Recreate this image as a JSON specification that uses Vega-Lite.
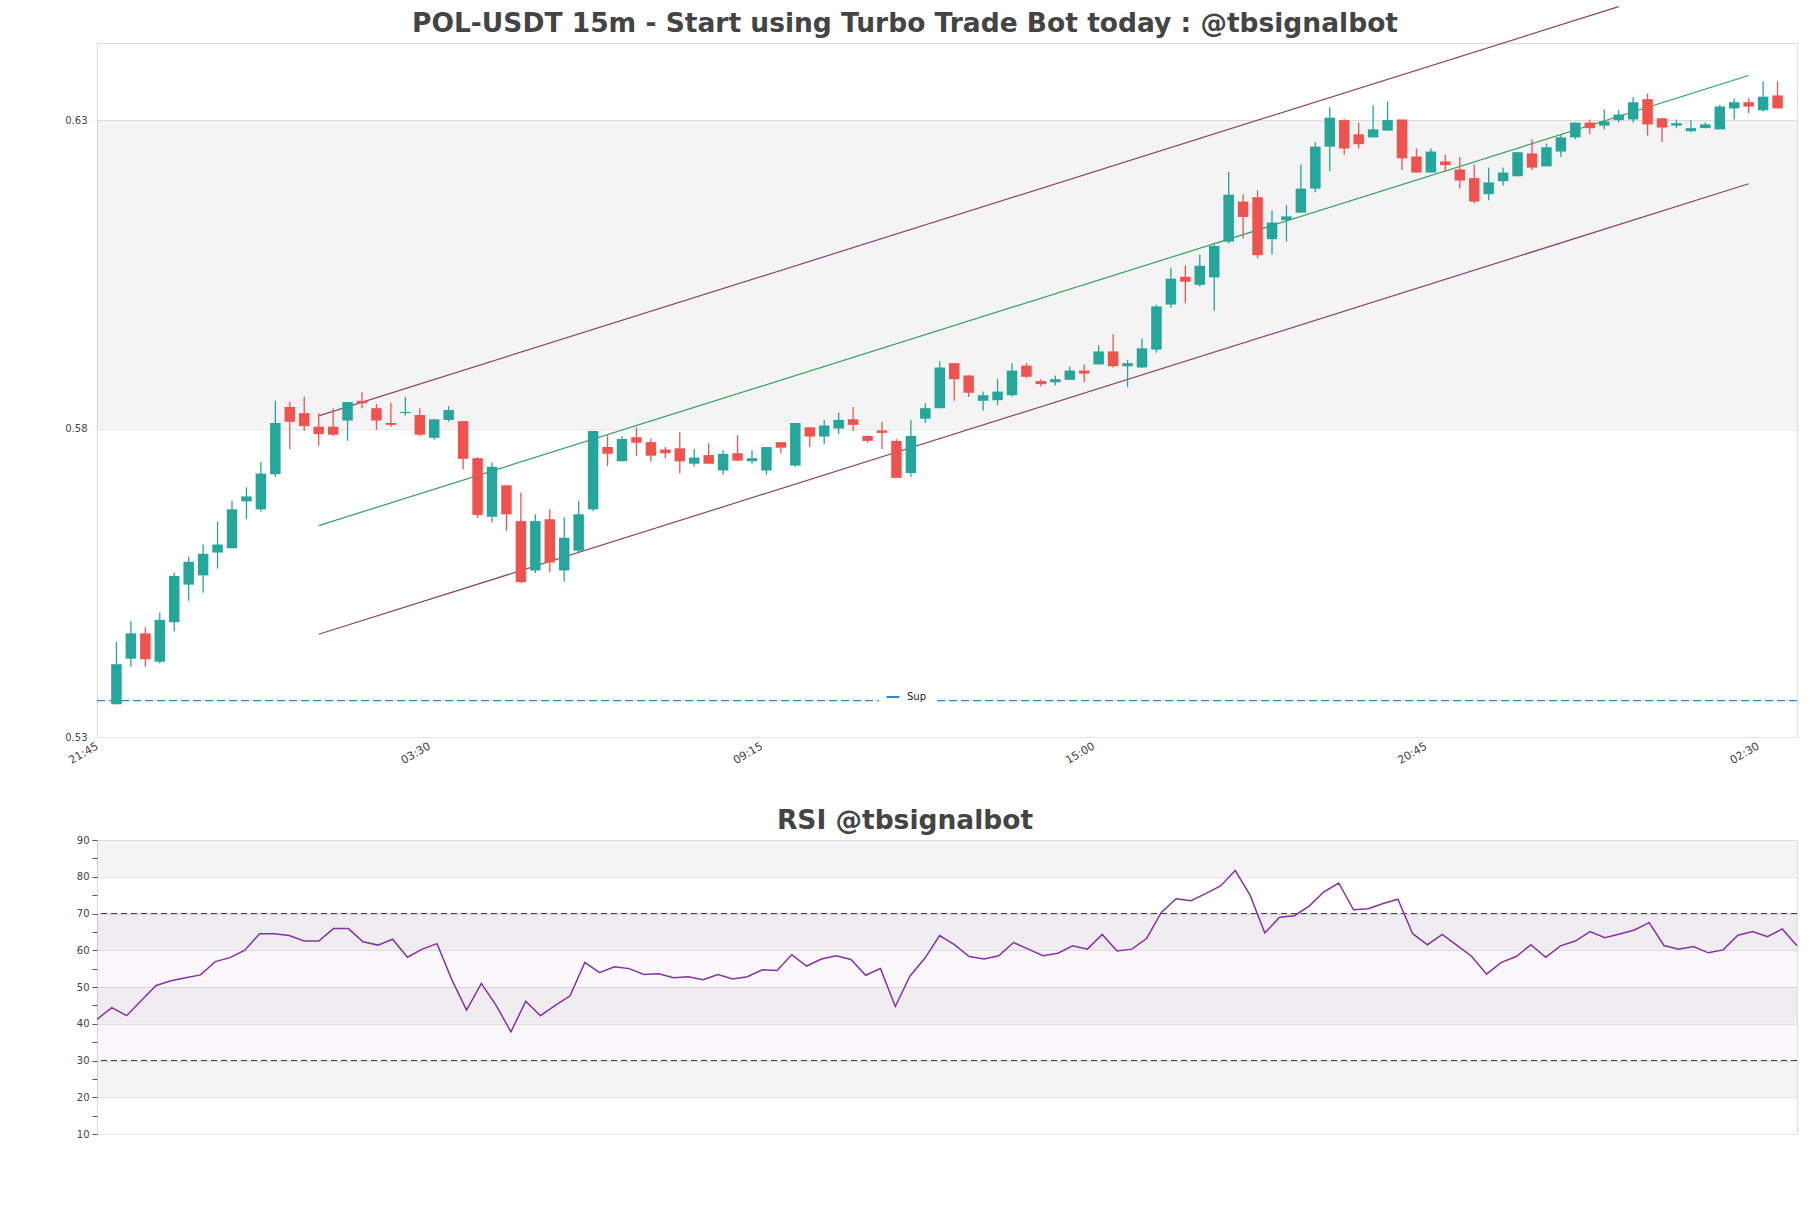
{
  "$schema": "https://vega.github.io/schema/vega-lite/v6.json",
  "autosize": {"type": "none"},
  "padding": {"left": 97, "top": 43, "right": 1714, "bottom": 1165},
  "background": "white",
  "bounds": "flush",
  "spacing": 103,
  "config": {
    "font": "DejaVu Sans",
    "view": {"stroke": "#dcdcdc", "strokeWidth": 1},
    "axis": {"labelFont": "DejaVu Sans", "labelFontSize": 10, "labelColor": "#444444", "gridColor": "#e4e4e4", "domain": false, "ticks": false, "title": null, "labelOverlap": false},
    "title": {"font": "DejaVu Sans", "fontSize": 26.5, "fontWeight": "bold", "color": "#444444", "anchor": "middle", "frame": "group", "dx": -42, "baseline": "alphabetic", "offset": 9.5}
  },
  "datasets": {
    "candles": [
      {"t":"2024-10-01T22:00Z","o":0.5353,"h":0.5454,"l":0.5353,"c":0.5418,"r":41.2},
      {"t":"2024-10-01T22:15Z","o":0.5427,"h":0.5488,"l":0.5414,"c":0.5468,"r":44.4},
      {"t":"2024-10-01T22:30Z","o":0.5468,"h":0.5478,"l":0.5414,"c":0.5426,"r":42.2},
      {"t":"2024-10-01T22:45Z","o":0.5422,"h":0.5502,"l":0.5419,"c":0.5490,"r":46.3},
      {"t":"2024-10-01T23:00Z","o":0.5486,"h":0.5566,"l":0.5471,"c":0.5561,"r":50.4},
      {"t":"2024-10-01T23:15Z","o":0.5547,"h":0.5592,"l":0.5521,"c":0.5584,"r":51.7},
      {"t":"2024-10-01T23:30Z","o":0.5562,"h":0.5612,"l":0.5534,"c":0.5597,"r":52.5},
      {"t":"2024-10-01T23:45Z","o":0.5599,"h":0.5649,"l":0.5573,"c":0.5612,"r":53.3},
      {"t":"2024-10-02T00:00Z","o":0.5606,"h":0.5683,"l":0.5606,"c":0.5669,"r":56.9},
      {"t":"2024-10-02T00:15Z","o":0.5682,"h":0.5705,"l":0.5653,"c":0.5690,"r":58.0},
      {"t":"2024-10-02T00:30Z","o":0.5669,"h":0.5746,"l":0.5665,"c":0.5727,"r":60.0},
      {"t":"2024-10-02T00:45Z","o":0.5726,"h":0.5845,"l":0.5722,"c":0.5809,"r":64.5},
      {"t":"2024-10-02T01:00Z","o":0.5835,"h":0.5843,"l":0.5767,"c":0.5811,"r":64.5},
      {"t":"2024-10-02T01:15Z","o":0.5825,"h":0.5852,"l":0.5796,"c":0.5804,"r":64.0},
      {"t":"2024-10-02T01:30Z","o":0.5803,"h":0.5825,"l":0.5772,"c":0.5791,"r":62.5},
      {"t":"2024-10-02T01:45Z","o":0.5803,"h":0.5833,"l":0.5788,"c":0.5790,"r":62.5},
      {"t":"2024-10-02T02:00Z","o":0.5813,"h":0.5843,"l":0.5780,"c":0.5843,"r":65.9},
      {"t":"2024-10-02T02:15Z","o":0.5845,"h":0.5859,"l":0.5833,"c":0.5841,"r":65.9},
      {"t":"2024-10-02T02:30Z","o":0.5833,"h":0.5840,"l":0.5798,"c":0.5813,"r":62.3},
      {"t":"2024-10-02T02:45Z","o":0.5809,"h":0.5842,"l":0.5803,"c":0.5806,"r":61.4},
      {"t":"2024-10-02T03:00Z","o":0.5825,"h":0.5851,"l":0.5821,"c":0.5827,"r":63.0},
      {"t":"2024-10-02T03:15Z","o":0.5822,"h":0.5833,"l":0.5788,"c":0.5790,"r":58.1},
      {"t":"2024-10-02T03:30Z","o":0.5785,"h":0.5815,"l":0.5782,"c":0.5815,"r":60.3},
      {"t":"2024-10-02T03:45Z","o":0.5814,"h":0.5836,"l":0.5811,"c":0.5830,"r":61.8},
      {"t":"2024-10-02T04:00Z","o":0.5812,"h":0.5812,"l":0.5734,"c":0.5751,"r":52.0},
      {"t":"2024-10-02T04:15Z","o":0.5752,"h":0.5754,"l":0.5655,"c":0.5660,"r":43.7},
      {"t":"2024-10-02T04:30Z","o":0.5657,"h":0.5745,"l":0.5648,"c":0.5738,"r":51.0},
      {"t":"2024-10-02T04:45Z","o":0.5708,"h":0.5708,"l":0.5634,"c":0.5661,"r":45.0},
      {"t":"2024-10-02T05:00Z","o":0.5650,"h":0.5696,"l":0.5550,"c":0.5551,"r":37.8},
      {"t":"2024-10-02T05:15Z","o":0.5570,"h":0.5661,"l":0.5566,"c":0.5650,"r":46.1},
      {"t":"2024-10-02T05:30Z","o":0.5653,"h":0.5669,"l":0.5567,"c":0.5583,"r":42.2},
      {"t":"2024-10-02T05:45Z","o":0.5570,"h":0.5656,"l":0.5552,"c":0.5623,"r":45.0},
      {"t":"2024-10-02T06:00Z","o":0.5602,"h":0.5683,"l":0.5600,"c":0.5661,"r":47.6},
      {"t":"2024-10-02T06:15Z","o":0.5669,"h":0.5796,"l":0.5666,"c":0.5796,"r":56.7},
      {"t":"2024-10-02T06:30Z","o":0.5770,"h":0.5789,"l":0.5739,"c":0.5759,"r":53.9},
      {"t":"2024-10-02T06:45Z","o":0.5747,"h":0.5788,"l":0.5747,"c":0.5783,"r":55.5},
      {"t":"2024-10-02T07:00Z","o":0.5786,"h":0.5802,"l":0.5756,"c":0.5777,"r":55.0},
      {"t":"2024-10-02T07:15Z","o":0.5778,"h":0.5784,"l":0.5746,"c":0.5756,"r":53.4},
      {"t":"2024-10-02T07:30Z","o":0.5766,"h":0.5770,"l":0.5752,"c":0.5760,"r":53.6},
      {"t":"2024-10-02T07:45Z","o":0.5768,"h":0.5794,"l":0.5727,"c":0.5747,"r":52.5},
      {"t":"2024-10-02T08:00Z","o":0.5743,"h":0.5767,"l":0.5738,"c":0.5753,"r":52.8},
      {"t":"2024-10-02T08:15Z","o":0.5757,"h":0.5776,"l":0.5743,"c":0.5743,"r":52.0},
      {"t":"2024-10-02T08:30Z","o":0.5732,"h":0.5765,"l":0.5725,"c":0.5759,"r":53.4},
      {"t":"2024-10-02T08:45Z","o":0.5760,"h":0.5789,"l":0.5747,"c":0.5748,"r":52.2},
      {"t":"2024-10-02T09:00Z","o":0.5747,"h":0.5765,"l":0.5743,"c":0.5752,"r":52.8},
      {"t":"2024-10-02T09:15Z","o":0.5732,"h":0.5770,"l":0.5725,"c":0.5770,"r":54.7},
      {"t":"2024-10-02T09:30Z","o":0.5778,"h":0.5778,"l":0.5760,"c":0.5769,"r":54.5},
      {"t":"2024-10-02T09:45Z","o":0.5740,"h":0.5809,"l":0.5738,"c":0.5809,"r":58.8},
      {"t":"2024-10-02T10:00Z","o":0.5802,"h":0.5802,"l":0.5770,"c":0.5787,"r":55.7},
      {"t":"2024-10-02T10:15Z","o":0.5787,"h":0.5814,"l":0.5775,"c":0.5805,"r":57.6},
      {"t":"2024-10-02T10:30Z","o":0.5800,"h":0.5826,"l":0.5791,"c":0.5814,"r":58.5},
      {"t":"2024-10-02T10:45Z","o":0.5815,"h":0.5835,"l":0.5796,"c":0.5806,"r":57.5},
      {"t":"2024-10-02T11:00Z","o":0.5788,"h":0.5789,"l":0.5777,"c":0.5780,"r":53.2},
      {"t":"2024-10-02T11:15Z","o":0.5797,"h":0.5811,"l":0.5767,"c":0.5793,"r":55.0},
      {"t":"2024-10-02T11:30Z","o":0.5780,"h":0.5783,"l":0.5720,"c":0.5720,"r":44.7},
      {"t":"2024-10-02T11:45Z","o":0.5728,"h":0.5814,"l":0.5722,"c":0.5788,"r":53.0},
      {"t":"2024-10-02T12:00Z","o":0.5816,"h":0.5841,"l":0.5809,"c":0.5833,"r":57.8},
      {"t":"2024-10-02T12:15Z","o":0.5833,"h":0.5909,"l":0.5833,"c":0.5899,"r":64.0},
      {"t":"2024-10-02T12:30Z","o":0.5906,"h":0.5906,"l":0.5845,"c":0.5880,"r":61.5},
      {"t":"2024-10-02T12:45Z","o":0.5886,"h":0.5886,"l":0.5851,"c":0.5858,"r":58.3},
      {"t":"2024-10-02T13:00Z","o":0.5845,"h":0.5860,"l":0.5829,"c":0.5854,"r":57.6},
      {"t":"2024-10-02T13:15Z","o":0.5846,"h":0.5880,"l":0.5838,"c":0.5860,"r":58.5},
      {"t":"2024-10-02T13:30Z","o":0.5854,"h":0.5906,"l":0.5852,"c":0.5894,"r":62.1},
      {"t":"2024-10-02T13:45Z","o":0.5902,"h":0.5906,"l":0.5882,"c":0.5884,"r":60.3},
      {"t":"2024-10-02T14:00Z","o":0.5877,"h":0.5880,"l":0.5868,"c":0.5872,"r":58.5},
      {"t":"2024-10-02T14:15Z","o":0.5875,"h":0.5886,"l":0.5870,"c":0.5880,"r":59.2},
      {"t":"2024-10-02T14:30Z","o":0.5879,"h":0.5900,"l":0.5879,"c":0.5894,"r":61.2},
      {"t":"2024-10-02T14:45Z","o":0.5894,"h":0.5904,"l":0.5875,"c":0.5889,"r":60.3},
      {"t":"2024-10-02T15:00Z","o":0.5904,"h":0.5935,"l":0.5904,"c":0.5925,"r":64.3},
      {"t":"2024-10-02T15:15Z","o":0.5925,"h":0.5953,"l":0.5899,"c":0.5901,"r":59.8},
      {"t":"2024-10-02T15:30Z","o":0.5901,"h":0.5911,"l":0.5867,"c":0.5906,"r":60.3},
      {"t":"2024-10-02T15:45Z","o":0.5899,"h":0.5946,"l":0.5898,"c":0.5930,"r":63.2},
      {"t":"2024-10-02T16:00Z","o":0.5928,"h":0.6001,"l":0.5923,"c":0.5998,"r":70.3},
      {"t":"2024-10-02T16:15Z","o":0.6001,"h":0.6061,"l":0.5996,"c":0.6043,"r":74.0},
      {"t":"2024-10-02T16:30Z","o":0.6046,"h":0.6064,"l":0.6003,"c":0.6038,"r":73.5},
      {"t":"2024-10-02T16:45Z","o":0.6033,"h":0.6082,"l":0.6030,"c":0.6064,"r":75.4},
      {"t":"2024-10-02T17:00Z","o":0.6045,"h":0.6101,"l":0.5991,"c":0.6096,"r":77.5},
      {"t":"2024-10-02T17:15Z","o":0.6103,"h":0.6216,"l":0.6100,"c":0.6179,"r":81.7},
      {"t":"2024-10-02T17:30Z","o":0.6168,"h":0.6180,"l":0.6108,"c":0.6143,"r":75.0},
      {"t":"2024-10-02T17:45Z","o":0.6175,"h":0.6186,"l":0.6076,"c":0.6081,"r":64.7},
      {"t":"2024-10-02T18:00Z","o":0.6107,"h":0.6154,"l":0.6082,"c":0.6134,"r":69.0},
      {"t":"2024-10-02T18:15Z","o":0.6138,"h":0.6162,"l":0.6103,"c":0.6144,"r":69.4},
      {"t":"2024-10-02T18:30Z","o":0.6150,"h":0.6228,"l":0.6150,"c":0.6189,"r":72.0},
      {"t":"2024-10-02T18:45Z","o":0.6189,"h":0.6264,"l":0.6183,"c":0.6257,"r":75.9},
      {"t":"2024-10-02T19:00Z","o":0.6257,"h":0.6321,"l":0.6217,"c":0.6304,"r":78.3},
      {"t":"2024-10-02T19:15Z","o":0.6300,"h":0.6302,"l":0.6244,"c":0.6254,"r":71.0},
      {"t":"2024-10-02T19:30Z","o":0.6277,"h":0.6296,"l":0.6254,"c":0.6261,"r":71.3},
      {"t":"2024-10-02T19:45Z","o":0.6272,"h":0.6324,"l":0.6272,"c":0.6285,"r":72.7},
      {"t":"2024-10-02T20:00Z","o":0.6283,"h":0.6330,"l":0.6283,"c":0.6300,"r":73.9},
      {"t":"2024-10-02T20:15Z","o":0.6301,"h":0.6301,"l":0.6219,"c":0.6238,"r":64.5},
      {"t":"2024-10-02T20:30Z","o":0.6241,"h":0.6254,"l":0.6215,"c":0.6215,"r":61.5},
      {"t":"2024-10-02T20:45Z","o":0.6215,"h":0.6254,"l":0.6215,"c":0.6249,"r":64.3},
      {"t":"2024-10-02T21:00Z","o":0.6233,"h":0.6244,"l":0.6217,"c":0.6227,"r":61.3},
      {"t":"2024-10-02T21:15Z","o":0.6220,"h":0.6240,"l":0.6189,"c":0.6202,"r":58.3},
      {"t":"2024-10-02T21:30Z","o":0.6206,"h":0.6228,"l":0.6165,"c":0.6168,"r":53.5},
      {"t":"2024-10-02T21:45Z","o":0.6180,"h":0.6223,"l":0.6170,"c":0.6199,"r":56.7},
      {"t":"2024-10-02T22:00Z","o":0.6201,"h":0.6223,"l":0.6194,"c":0.6215,"r":58.3},
      {"t":"2024-10-02T22:15Z","o":0.6209,"h":0.6248,"l":0.6209,"c":0.6248,"r":61.5},
      {"t":"2024-10-02T22:30Z","o":0.6246,"h":0.6269,"l":0.6219,"c":0.6223,"r":58.1},
      {"t":"2024-10-02T22:45Z","o":0.6225,"h":0.6262,"l":0.6225,"c":0.6256,"r":61.2},
      {"t":"2024-10-02T23:00Z","o":0.6249,"h":0.6277,"l":0.6240,"c":0.6272,"r":62.5},
      {"t":"2024-10-02T23:15Z","o":0.6272,"h":0.6296,"l":0.6269,"c":0.6296,"r":65.1},
      {"t":"2024-10-02T23:30Z","o":0.6296,"h":0.6301,"l":0.6277,"c":0.6287,"r":63.4},
      {"t":"2024-10-02T23:45Z","o":0.6291,"h":0.6317,"l":0.6285,"c":0.6298,"r":64.4},
      {"t":"2024-10-03T00:00Z","o":0.6300,"h":0.6316,"l":0.6296,"c":0.6309,"r":65.5},
      {"t":"2024-10-03T00:15Z","o":0.6301,"h":0.6337,"l":0.6296,"c":0.6329,"r":67.5},
      {"t":"2024-10-03T00:30Z","o":0.6334,"h":0.6343,"l":0.6275,"c":0.6293,"r":61.3},
      {"t":"2024-10-03T00:45Z","o":0.6303,"h":0.6303,"l":0.6265,"c":0.6288,"r":60.3},
      {"t":"2024-10-03T01:00Z","o":0.6291,"h":0.6301,"l":0.6287,"c":0.6295,"r":61.0},
      {"t":"2024-10-03T01:15Z","o":0.6282,"h":0.6300,"l":0.6280,"c":0.6287,"r":59.3},
      {"t":"2024-10-03T01:30Z","o":0.6287,"h":0.6296,"l":0.6287,"c":0.6293,"r":60.1},
      {"t":"2024-10-03T01:45Z","o":0.6285,"h":0.6325,"l":0.6285,"c":0.6322,"r":64.1},
      {"t":"2024-10-03T02:00Z","o":0.6319,"h":0.6335,"l":0.6301,"c":0.6329,"r":65.1},
      {"t":"2024-10-03T02:15Z","o":0.6329,"h":0.6335,"l":0.6311,"c":0.6322,"r":63.7},
      {"t":"2024-10-03T02:30Z","o":0.6316,"h":0.6363,"l":0.6314,"c":0.6338,"r":65.8},
      {"t":"2024-10-03T02:45Z","o":0.6340,"h":0.6363,"l":0.6319,"c":0.6319,"r":61.2}
    ],
    "bands_top": [{"y": 0.58, "y2": 0.63}],
    "sup": [{"level": 0.5359, "name": "Sup"}],
    "chan": [
      {"t": "2024-10-02T01:30Z", "v": 0.58206, "g": "upper"},
      {"t": "2024-10-03T00:00Z", "v": 0.6484, "g": "upper"},
      {"t": "2024-10-02T01:30Z", "v": 0.56427, "g": "mid"},
      {"t": "2024-10-03T02:15Z", "v": 0.63724, "g": "mid"},
      {"t": "2024-10-02T01:30Z", "v": 0.54665, "g": "lower"},
      {"t": "2024-10-03T02:15Z", "v": 0.61969, "g": "lower"}
    ],
    "rsi_bands": [{"y": 20, "y2": 30}, {"y": 40, "y2": 50}, {"y": 60, "y2": 70}, {"y": 80, "y2": 90}],
    "rsi_zone": [{"y": 30, "y2": 70}],
    "rsi_levels": [{"y": 30}, {"y": 70}]
  },
  "vconcat": [
    {
      "width": 1700,
      "height": 694,
      "title": {"text": "POL-USDT 15m - Start using Turbo Trade Bot today : @tbsignalbot", "offset": 0, "dy": 33.5},
      "layer": [
        {
          "data": {"name": "bands_top"},
          "mark": {"type": "rect", "fill": "black", "fillOpacity": 0.043},
          "encoding": {
            "y": {"field": "y", "type": "quantitative", "scale": {"domain": [0.53, 0.6425], "nice": false, "zero": false},
                  "axis": {"values": [0.53, 0.58, 0.63], "tickCount": 10, "format": ".2f", "grid": true, "labelPadding": 10, "labelOverlap": false}},
            "y2": {"field": "y2"}
          }
        },
        {
          "data": {"name": "sup"},
          "mark": {"type": "rule", "strokeWidth": 1.2, "strokeDash": [8, 4]},
          "encoding": {
            "y": {"field": "level", "type": "quantitative"},
            "color": {"field": "name", "type": "nominal", "scale": {"range": ["#2a8bd2"]},
                      "legend": {"title": null, "orient": "none", "legendX": 782, "legendY": 640, "fillColor": "white", "padding": 6,
                                 "symbolType": "stroke", "symbolStrokeColor": "#1c1caa", "symbolStrokeWidth": 2, "symbolSize": 170, "symbolDash": [1, 0],
                                 "labelFontSize": 10, "labelColor": "#222222", "labelFont": "DejaVu Sans", "labelOffset": 6}}
          }
        },
        {
          "data": {"name": "chan"},
          "mark": {"type": "line", "strokeWidth": 1.2},
          "encoding": {
            "x": {"field": "t", "type": "temporal", "scale": {"type": "utc", "domain": [{"year": 2024, "month": 10, "date": 1, "hours": 21, "minutes": 45, "utc": true}, {"year": 2024, "month": 10, "date": 3, "hours": 3, "minutes": 0, "utc": true}]}},
            "y": {"field": "v", "type": "quantitative"},
            "detail": {"field": "g"},
            "stroke": {"field": "g", "type": "nominal", "scale": {"domain": ["upper", "mid", "lower"], "range": ["#8c4565", "#34a35c", "#8c4565"]}, "legend": null}
          }
        },
        {
          "data": {"name": "candles"},
          "mark": {"type": "rule", "strokeWidth": 1.3},
          "encoding": {
            "x": {"field": "t", "type": "temporal",
                  "scale": {"type": "utc", "domain": [{"year": 2024, "month": 10, "date": 1, "hours": 21, "minutes": 45, "utc": true}, {"year": 2024, "month": 10, "date": 3, "hours": 3, "minutes": 0, "utc": true}]},
                  "axis": {"values": [
                    {"year": 2024, "month": 10, "date": 1, "hours": 21, "minutes": 45, "utc": true},
                    {"year": 2024, "month": 10, "date": 2, "hours": 3, "minutes": 30, "utc": true},
                    {"year": 2024, "month": 10, "date": 2, "hours": 9, "minutes": 15, "utc": true},
                    {"year": 2024, "month": 10, "date": 2, "hours": 15, "minutes": 0, "utc": true},
                    {"year": 2024, "month": 10, "date": 2, "hours": 20, "minutes": 45, "utc": true},
                    {"year": 2024, "month": 10, "date": 3, "hours": 2, "minutes": 30, "utc": true}],
                    "labelExpr": "utcFormat(datum.value, '%H:%M')", "labelAngle": -30, "labelAlign": "right", "labelBaseline": "top", "labelPadding": 3, "labelOffset": -8, "labelFontSize": 11, "labelOverlap": false, "grid": false}},
            "y": {"field": "l", "type": "quantitative"},
            "y2": {"field": "h"},
            "color": {"condition": {"test": "datum.c >= datum.o", "value": "#26a69a"}, "value": "#ef5350"}
          }
        },
        {
          "data": {"name": "candles"},
          "mark": {"type": "bar", "width": 10.5},
          "encoding": {
            "x": {"field": "t", "type": "temporal"},
            "y": {"field": "o", "type": "quantitative"},
            "y2": {"field": "c"},
            "color": {"condition": {"test": "datum.c >= datum.o", "value": "#26a69a"}, "value": "#ef5350"}
          }
        }
      ]
    },
    {
      "width": 1700,
      "height": 294,
      "title": {"text": "RSI @tbsignalbot", "dy": 9},
      "layer": [
        {
          "data": {"name": "rsi_bands"},
          "mark": {"type": "rect", "fill": "black", "fillOpacity": 0.043},
          "encoding": {
            "y": {"field": "y", "type": "quantitative", "scale": {"domain": [10, 90], "nice": false, "zero": false},
                  "axis": {"values": [10, 15, 20, 25, 30, 35, 40, 45, 50, 55, 60, 65, 70, 75, 80, 85, 90], "tickCount": 40, "grid": true,
                           "gridOpacity": {"condition": {"test": "datum.value % 10 === 0", "value": 1}, "value": 0},
                           "ticks": true, "tickSize": 5, "tickColor": "#555555", "labelOverlap": false,
                           "labelExpr": "datum.value % 10 === 0 ? datum.label : ''", "labelPadding": 3}},
            "y2": {"field": "y2"}
          }
        },
        {
          "data": {"name": "rsi_zone"},
          "mark": {"type": "rect", "fill": "#8b2fa8", "fillOpacity": 0.035},
          "encoding": {"y": {"field": "y", "type": "quantitative"}, "y2": {"field": "y2"}}
        },
        {
          "data": {"name": "rsi_levels"},
          "mark": {"type": "rule", "stroke": "#444444", "strokeDash": [6, 4], "strokeWidth": 1.2},
          "encoding": {"y": {"field": "y", "type": "quantitative"}}
        },
        {
          "data": {"name": "candles"},
          "mark": {"type": "line", "stroke": "#8b2fa8", "strokeWidth": 1.5},
          "encoding": {
            "x": {"field": "t", "type": "temporal", "scale": {"type": "utc", "nice": false}, "axis": null},
            "y": {"field": "r", "type": "quantitative"}
          }
        }
      ]
    }
  ]
}
